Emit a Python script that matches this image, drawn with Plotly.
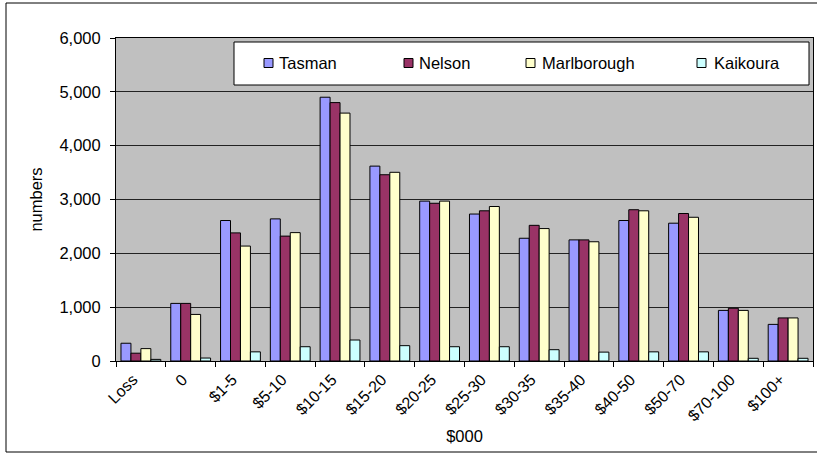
import plotly.graph_objects as go

# Income bands (in $000) and counts per district
categories = ["Loss", "0", "$1-5", "$5-10", "$10-15", "$15-20", "$20-25",
              "$25-30", "$30-35", "$35-40", "$40-50", "$50-70", "$70-100", "$100+"]

tasman = [330, 1070, 2610, 2640, 4900, 3620, 2970, 2730, 2280, 2250, 2610, 2560, 940, 680]
nelson = [145, 1070, 2380, 2320, 4800, 3460, 2930, 2790, 2520, 2250, 2810, 2740, 980, 800]
marlborough = [230, 865, 2135, 2385, 4605, 3505, 2970, 2870, 2460, 2215, 2790, 2670, 940, 800]
kaikoura = [30, 55, 170, 265, 390, 285, 265, 265, 210, 165, 170, 170, 50, 50]

series_names = ["Tasman", "Nelson", "Marlborough", "Kaikoura"]
series_values = [tasman, nelson, marlborough, kaikoura]
series_colors = ["#9999FF", "#993366", "#FFFFCC", "#CCFFFF"]

y_ticks = [0, 1000, 2000, 3000, 4000, 5000, 6000]

FONT = "Liberation Sans, Arial, sans-serif"
W, H = 817, 457
L, R, T, B = 116, 4, 38, 96
PW, PH = W - L - R, H - T - B


def px(x):
    return (x - L) / PW


def py(y):
    return (H - B - y) / PH


fig = go.Figure()
for name, vals, col in zip(series_names, series_values, series_colors):
    fig.add_trace(go.Bar(
        name=name, x=categories, y=vals,
        marker=dict(color=col, line=dict(color="black", width=1)),
        showlegend=False,
    ))

shapes = []
annotations = []

# outer chart frame
shapes.append(dict(type="rect", xref="paper", yref="paper",
                   x0=px(6), x1=px(830), y0=py(452), y1=py(3),
                   line=dict(color="black", width=1), layer="below"))

# legend box
shapes.append(dict(type="rect", xref="paper", yref="paper",
                   x0=px(234), x1=px(809), y0=py(85), y1=py(42),
                   fillcolor="white", line=dict(color="black", width=1), layer="above"))

legend_marker_x = [264, 404, 526, 697]
legend_text_x = [277, 417, 540, 712]
ly = 63
for name, col, mx, tx in zip(series_names, series_colors, legend_marker_x, legend_text_x):
    shapes.append(dict(type="rect", xref="paper", yref="paper",
                       x0=px(mx), x1=px(mx + 9), y0=py(ly + 4.5), y1=py(ly - 4.5),
                       fillcolor=col, line=dict(color="black", width=1), layer="above"))
    annotations.append(dict(text=name, xref="paper", yref="paper",
                            x=px(tx), y=py(ly), xanchor="left", yanchor="middle",
                            showarrow=False, font=dict(family=FONT, size=16.5, color="black")))

fig.update_layout(
    width=W, height=H,
    margin=dict(l=L, r=R, t=T, b=B, pad=0),
    paper_bgcolor="white",
    plot_bgcolor="#C0C0C0",
    barmode="group",
    bargap=0.2,
    bargroupgap=0,
    font=dict(family=FONT, size=16, color="black"),
    shapes=shapes,
    annotations=annotations,
    xaxis=dict(
        type="category",
        tickson="boundaries",
        ticks="outside", ticklen=5, tickcolor="black",
        tickangle=-45,
        ticklabelshift=-8,
        ticklabelstandoff=2,
        showline=True, linecolor="black", linewidth=1, mirror=True,
        showgrid=False,
        title=dict(text="$000", font=dict(size=16.5), standoff=6),
        tickfont=dict(size=16),
    ),
    yaxis=dict(
        range=[0, 6000],
        tickvals=y_ticks,
        tickformat=",",
        ticks="outside", ticklen=5, tickcolor="black",
        ticklabelstandoff=6,
        showline=True, linecolor="black", linewidth=1, mirror=True,
        showgrid=True, gridcolor="#222222", gridwidth=1,
        zeroline=False,
        title=dict(text="numbers", font=dict(size=16.5), standoff=12),
        tickfont=dict(size=16.5),
    ),
)

fig.write_html("out.html")
